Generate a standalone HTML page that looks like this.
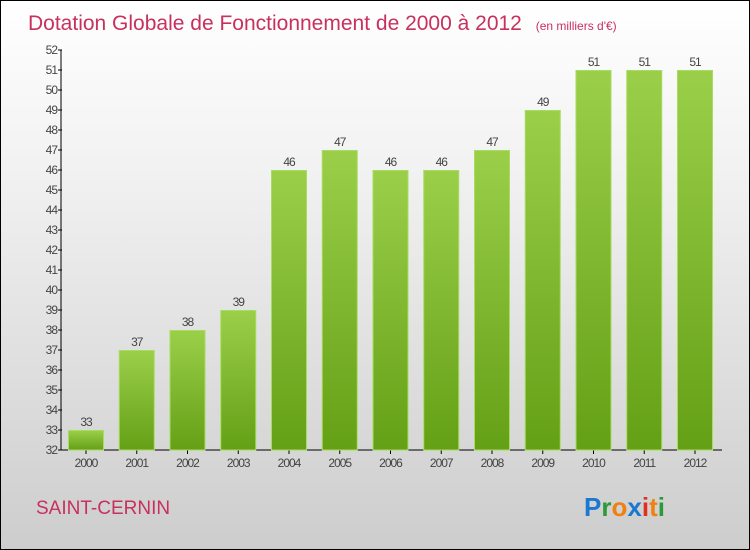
<!DOCTYPE html>
<html><head><meta charset="utf-8"><style>
body{margin:0}
#c{position:relative;width:748px;height:548px;border:1px solid #000;background:linear-gradient(#fff,#f2f2f2 30%,#cdcdcd);overflow:hidden;font-family:"Liberation Sans",sans-serif}
</style></head><body>
<div id="c">
<svg width="748" height="548">
<defs><linearGradient id="g" x1="0" y1="0" x2="0" y2="1"><stop offset="0" stop-color="#9bcf4a"/><stop offset="1" stop-color="#64a016"/></linearGradient></defs>
<text x="27" y="29" font-size="21" fill="#c8305f">Dotation Globale de Fonctionnement de 2000 à 2012 <tspan font-size="12" dx="8">(en milliers d'€)</tspan></text>
<g id="axes"></g><g id="bars"></g>
<text x="35" y="513" font-size="19" fill="#c8305f">SAINT-CERNIN</text>
<g font-size="26" font-weight="bold">
<text x="583" y="515" fill="#1a78d0">P<tspan fill="#2a9a3a">r</tspan><tspan fill="#f08010">o</tspan><tspan fill="#1a78d0">x</tspan><tspan fill="#e03020">i</tspan><tspan fill="#f08010">t</tspan><tspan fill="#2a9a3a">i</tspan></text></g>
</svg></div>
<script>
const years=["2000","2001","2002","2003","2004","2005","2006","2007","2008","2009","2010","2011","2012"];
const values=[33,37,38,39,46,47,46,46,47,49,51,51,51];
const yMin=32,yMax=52;
const ns="http://www.w3.org/2000/svg";
const y=v=>449-(v-yMin)*20, x=i=>67+i*50.75;
function mk(t,a,p){const e=document.createElementNS(ns,t);for(const k in a)e.setAttribute(k,a[k]);p.appendChild(e);return e;}
const ax=document.getElementById('axes'),bs=document.getElementById('bars');
const yl=mk('line',{x1:60,y1:y(yMax),x2:60,y2:449,stroke:'#000'},ax);


const xl=mk('line',{x1:60,y1:449,x2:721,y2:449,stroke:'#000'},ax);


for(let v=yMin;v<=yMax;v++){
mk('line',{x1:57,x2:61,y1:y(v),y2:y(v),stroke:'#000'},ax);
const t=mk('text',{x:56,y:y(v)+4,'text-anchor':'end','font-size':12,fill:'#444','letter-spacing':'-1'},ax);t.textContent=v;

}
values.forEach((v,i)=>{
const r=mk('rect',{x:x(i)+0.5,y:y(v)+0.5,width:35,height:449-y(v)-0.5,fill:'url(#g)',stroke:'#a8dc60'},bs);


const l=mk('text',{x:x(i)+18,y:y(v)-4,'text-anchor':'middle','font-size':12,fill:'#444','letter-spacing':'-1'},bs);l.textContent=v;


mk('line',{x1:x(i)+18,x2:x(i)+18,y1:449,y2:453,stroke:'#000'},ax);
const t=mk('text',{x:x(i)+18,y:466,'text-anchor':'middle','font-size':12,fill:'#444','letter-spacing':'-1'},ax);t.textContent=years[i];

});
</script></body></html>
